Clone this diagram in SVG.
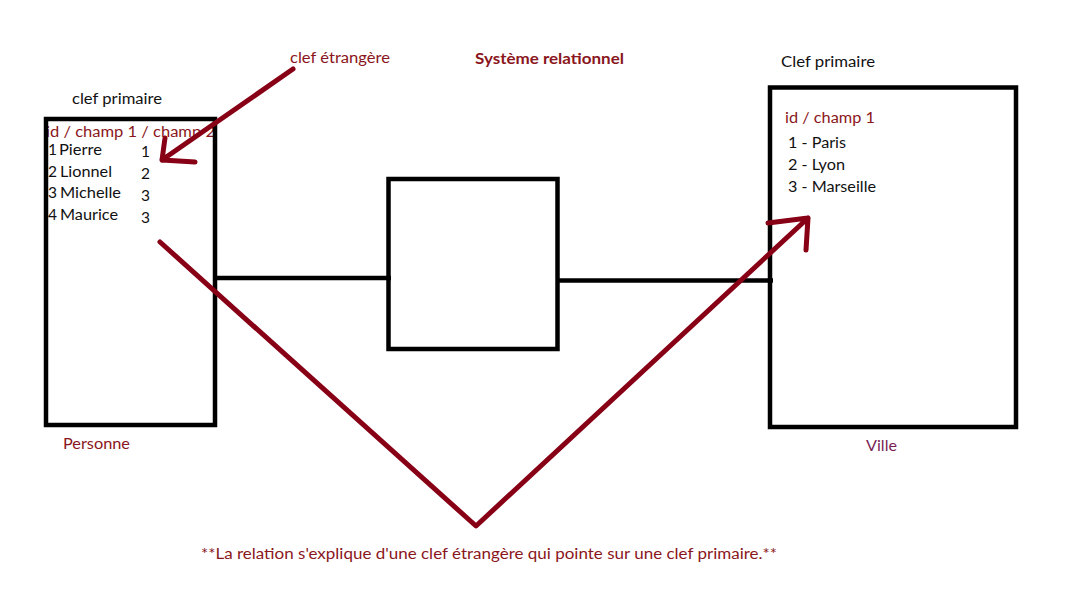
<svg xmlns="http://www.w3.org/2000/svg" width="1083" height="589" viewBox="0 0 1083 589">
<style>
text{font-family:Lato,"Open Sans","Liberation Sans",sans-serif;font-size:15.5px;}
.k{fill:#111;}
.r{fill:#8a1620;}
.v{fill:#7a1f55;}
.b{font-weight:bold;}
.box{fill:none;stroke:#000;stroke-width:4.5;}
.conn{stroke:#000;stroke-width:4.5;fill:none;}
.red{stroke:#880015;stroke-width:5;fill:none;stroke-linecap:round;stroke-linejoin:round;}
</style>
<rect width="1083" height="589" fill="#fff"/>
<text class="r b" x="475" y="64" textLength="149" lengthAdjust="spacingAndGlyphs">Système relationnel</text>
<g id="personne">
<text class="k" x="72" y="104" textLength="90" lengthAdjust="spacingAndGlyphs">clef primaire</text>
<text class="r" x="46" y="137" textLength="169" lengthAdjust="spacingAndGlyphs">id / champ 1 / champ 2</text>
<rect class="box" x="46" y="119" width="169" height="306"/>
<text class="k" x="48" y="155">1</text><text class="k" x="59" y="155" textLength="43" lengthAdjust="spacingAndGlyphs">Pierre</text><text class="k" x="141" y="157">1</text>
<text class="k" x="48" y="177">2</text><text class="k" x="60" y="177" textLength="52" lengthAdjust="spacingAndGlyphs">Lionnel</text><text class="k" x="141" y="179">2</text>
<text class="k" x="48" y="198">3</text><text class="k" x="60" y="198" textLength="61" lengthAdjust="spacingAndGlyphs">Michelle</text><text class="k" x="141" y="201">3</text>
<text class="k" x="48" y="220">4</text><text class="k" x="60" y="220" textLength="58" lengthAdjust="spacingAndGlyphs">Maurice</text><text class="k" x="141" y="223">3</text>
<text class="r" x="63" y="449" textLength="67" lengthAdjust="spacingAndGlyphs">Personne</text>
</g>
<g id="relation">
<rect class="box" x="388.5" y="179" width="169" height="170"/>
</g>
<g id="ville">
<rect class="box" x="770" y="87.5" width="246" height="339.5"/>
<text class="k" x="781" y="67" textLength="94" lengthAdjust="spacingAndGlyphs">Clef primaire</text>
<text class="r" x="785" y="123" textLength="90" lengthAdjust="spacingAndGlyphs">id / champ 1</text>
<text class="k" x="788" y="148" textLength="58" lengthAdjust="spacingAndGlyphs">1 - Paris</text>
<text class="k" x="788" y="170" textLength="57" lengthAdjust="spacingAndGlyphs">2 - Lyon</text>
<text class="k" x="788" y="192" textLength="88" lengthAdjust="spacingAndGlyphs">3 - Marseille</text>
<text class="v" x="866" y="451" textLength="31" lengthAdjust="spacingAndGlyphs">Ville</text>
</g>
<g id="connectors">
<line class="conn" x1="215" y1="278" x2="391" y2="278"/>
<line class="conn" x1="557" y1="280.5" x2="773" y2="280.5"/>
<path class="red" d="M293 69 L162 160 M165 138 L162 160 L195 162"/>
<path class="red" d="M160 242 L476 526 L808 218 M768 223 L808 218 L806 250"/>
</g>
<text class="r" x="290" y="63" textLength="100" lengthAdjust="spacingAndGlyphs">clef étrangère</text>
<text class="r" x="201" y="559" textLength="576" lengthAdjust="spacingAndGlyphs">**La relation s'explique d'une clef étrangère qui pointe sur une clef primaire.**</text>
</svg>
